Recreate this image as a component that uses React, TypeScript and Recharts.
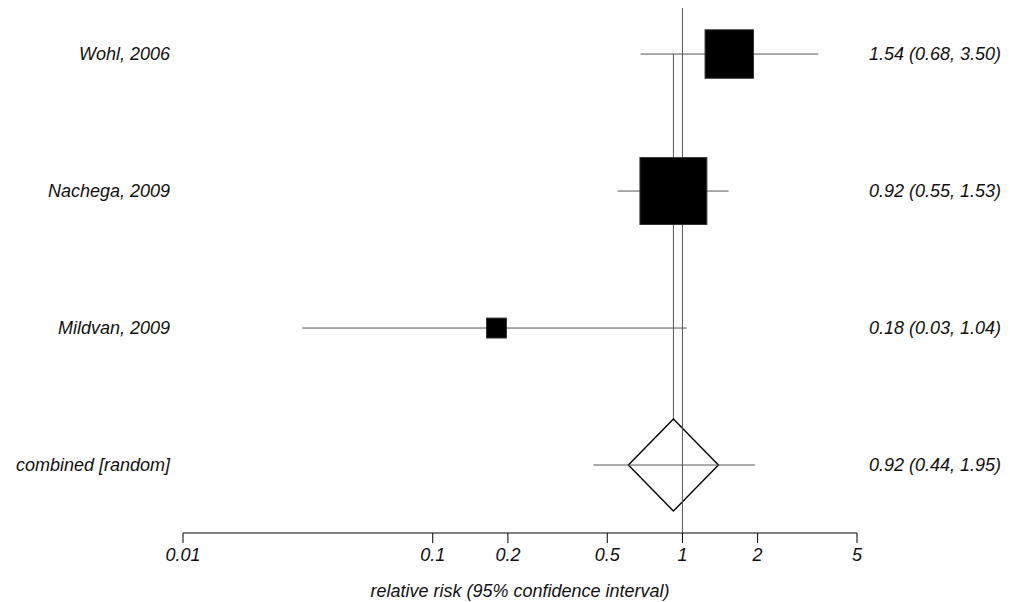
import React from 'react';
import { ScatterChart, Scatter, XAxis, YAxis } from 'recharts';

// Forest plot: relative risk per study + pooled estimate (random effects)
const STUDIES = ['Wohl, 2006', 'Nachega, 2009', 'Mildvan, 2009', 'combined [random]'];
const ESTIMATES = [1.54, 0.92, 0.18, 0.92];
const LOWER = [0.68, 0.55, 0.03, 0.44];
const UPPER = [3.5, 1.53, 1.04, 1.95];
const WEIGHTS = [32.5, 62, 5.5]; // % weight of each study (box area)
const ROWS = [4, 3, 2, 1];
const X_TICKS = [0.01, 0.1, 0.2, 0.5, 1, 2, 5];
const X_DOMAIN: [number, number] = [0.01, 5];
const Y_DOMAIN: [number, number] = [0.504, 4.336];

const FONT = '"Liberation Sans", Arial, Helvetica, sans-serif';
const LINE = '#555';
const TICK_STYLE = { fill: '#111', fontSize: 18, fontStyle: 'italic', fontFamily: FONT };

const studyPoints = WEIGHTS.map((w, i) => ({ x: ESTIMATES[i], y: ROWS[i], w }));
const pooledIdx = ESTIMATES.length - 1;
const pooledPoint = [{ x: ESTIMATES[pooledIdx], y: ROWS[pooledIdx] }];
const ciSegments = ESTIMATES.map((_, i) => [
  { x: LOWER[i], y: ROWS[i] },
  { x: UPPER[i], y: ROWS[i] },
]);
const nullLine = [
  { x: 1, y: Y_DOMAIN[0] },
  { x: 1, y: Y_DOMAIN[1] },
];
const pooledLine = [
  { x: ESTIMATES[pooledIdx], y: ROWS[0] },
  { x: ESTIMATES[pooledIdx], y: ROWS[pooledIdx] },
];

const fmt = (v: number) => v.toFixed(2);
const rightLabels = ESTIMATES.map((e, i) => `${fmt(e)} (${fmt(LOWER[i])}, ${fmt(UPPER[i])})`);

const Empty = () => <g />;

const Box = (props: any) => {
  const { cx, cy, payload } = props;
  const s = 8.5 * Math.sqrt(payload.w);
  return <rect x={cx - s / 2} y={cy - s / 2} width={s} height={s} fill="#000" stroke="#333" strokeWidth={1} />;
};

const Diamond = (props: any) => {
  const { cx, cy } = props;
  const hw = 45;
  const hh = 46;
  return (
    <polygon
      points={`${cx},${cy - hh} ${cx + hw},${cy} ${cx},${cy + hh} ${cx - hw},${cy}`}
      fill="#fff"
      stroke="#000"
      strokeWidth={1.4}
    />
  );
};

const rowLabel = (list: string[]) => (v: number) => {
  const i = ROWS.indexOf(v);
  return i >= 0 ? list[i] : '';
};

export default function App() {
  const lineProps = { stroke: LINE, strokeWidth: 1 };
  return (
    <div style={{ position: 'absolute', left: 0, top: 0, width: 1010, height: 602, background: '#fff' }}>
      <ScatterChart width={1010} height={602} margin={{ top: 8, right: 0, bottom: 0, left: 0 }}>
        <XAxis
          type="number"
          dataKey="x"
          scale="log"
          domain={X_DOMAIN}
          allowDataOverflow
          ticks={X_TICKS}
          interval={0}
          tickFormatter={(v: number) => String(v)}
          height={69}
          tickSize={10}
          tickMargin={5}
          axisLine={{ stroke: '#000' }}
          tickLine={{ stroke: '#000' }}
          tick={TICK_STYLE}
          label={{
            value: 'relative risk (95% confidence interval)',
            position: 'insideBottom',
            offset: 5,
            style: { fill: '#111', fontSize: 18, fontStyle: 'italic', fontFamily: FONT },
          }}
        />
        <YAxis
          yAxisId="left"
          type="number"
          dataKey="y"
          domain={Y_DOMAIN}
          allowDataOverflow
          ticks={ROWS}
          interval={0}
          width={183}
          tickSize={0}
          tickMargin={13}
          axisLine={false}
          tickLine={false}
          tick={TICK_STYLE}
          tickFormatter={rowLabel(STUDIES)}
        />
        <YAxis
          yAxisId="right"
          orientation="right"
          type="number"
          dataKey="y"
          domain={Y_DOMAIN}
          allowDataOverflow
          ticks={ROWS}
          interval={0}
          width={153}
          tickSize={0}
          tickMargin={12}
          axisLine={false}
          tickLine={false}
          tick={TICK_STYLE}
          tickFormatter={rowLabel(rightLabels)}
        />

        {/* pooled estimate line, hidden behind the diamond */}
        <Scatter yAxisId="left" data={pooledLine} line={lineProps} shape={Empty} isAnimationActive={false} />
        <Scatter yAxisId="left" data={pooledPoint} shape={Diamond} isAnimationActive={false} />
        <Scatter yAxisId="left" data={ciSegments[pooledIdx]} line={lineProps} shape={Empty} isAnimationActive={false} />
        {/* line of no effect */}
        <Scatter yAxisId="left" data={nullLine} line={lineProps} shape={Empty} isAnimationActive={false} />
        {ciSegments.slice(0, pooledIdx).map((seg, i) => (
          <Scatter key={i} yAxisId="left" data={seg} line={lineProps} shape={Empty} isAnimationActive={false} />
        ))}
        <Scatter yAxisId="left" data={studyPoints} shape={Box} isAnimationActive={false} />
        <Scatter yAxisId="right" data={pooledPoint} shape={Empty} isAnimationActive={false} />
      </ScatterChart>
    </div>
  );
}
